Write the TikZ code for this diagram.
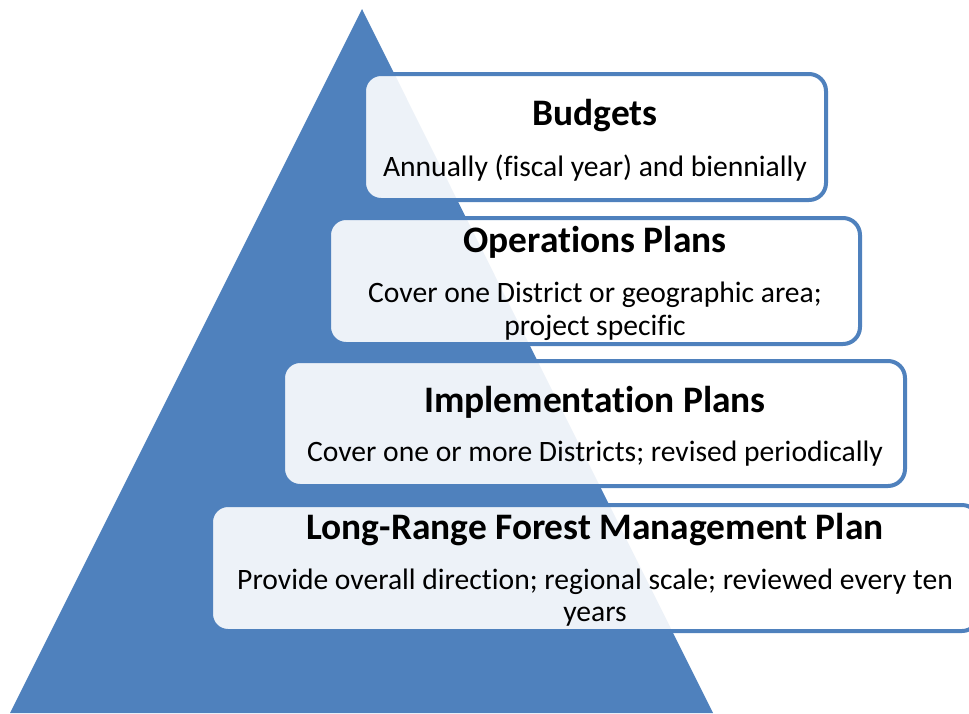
\documentclass[tikz,border=0pt]{standalone}
\usepackage{fontspec}
\setmainfont{Carlito}[Ligatures=NoCommon]
\definecolor{pyramid blue}{HTML}{4F81BD}
\tikzset{tier/.style={draw=pyramid blue, line width=4pt, fill=white, fill opacity=0.9,
        rounded corners=17pt, inner sep=0pt},
    heading/.style={font=\fontsize{37.4}{40}\selectfont\bfseries, inner sep=0pt},
    detail/.style={font=\fontsize{29.6}{32.5}\selectfont, align=center, inner sep=0pt}}

\begin{document}
\begin{tikzpicture}[x=1pt,y=-1pt]
    \useasboundingbox (0,0) rectangle (969,713);
    \clip (0,0) rectangle (969,713);
    % the pyramid behind the tiers
    \fill[pyramid blue] (362,9) -- (713,713) -- (10,713) -- cycle;
    %
    \node[tier, minimum width=462pt, minimum height=126pt] (budgets) at (595,137) {};
    \node[tier, minimum width=531pt, minimum height=126pt] (operations) at (594.5,281) {};
    \node[tier, minimum width=622pt, minimum height=125pt] (implementation) at (594,423.5) {};
    \node[tier, minimum width=768pt, minimum height=126pt] (longrange) at (595,568) {};
    %
    \node[heading] (budgetsHead) at (595,116) {Budgets};
    \node[detail] (budgetsText) at (595,168.5) {Annually (fiscal year) and biennially};
    \node[heading] (operationsHead) at (595,242) {Operations Plans};
    \node[detail] (operationsText) at (595,311.5) {Cover one District or geographic area;\\ project specific};
    \node[heading] (implementationHead) at (595,402) {Implementation Plans};
    \node[detail] (implementationText) at (595,454) {Cover one or more Districts; revised periodically};
    \node[heading] (longrangeHead) at (595,529.5) {Long-Range Forest Management Plan};
    \node[detail] (longrangeText) at (595,597.5) {Provide overall direction; regional scale; reviewed every ten\\ years};
\end{tikzpicture}
\end{document}
